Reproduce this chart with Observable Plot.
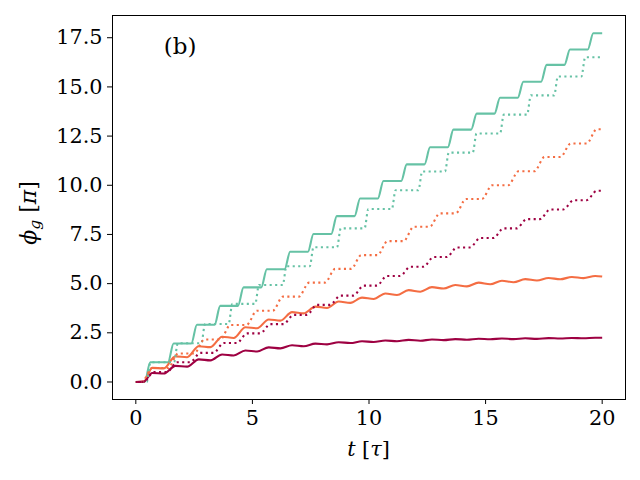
<!DOCTYPE html>
<html>
<head>
<meta charset="utf-8">
<script src="https://cdn.jsdelivr.net/npm/d3@7"></script>
<script src="https://cdn.jsdelivr.net/npm/@observablehq/plot@0.6"></script>
<style>
  html, body { margin: 0; padding: 0; background: white; }
  #chart { width: 640px; height: 480px; }
</style>
</head>
<body>
<div id="chart"></div>
<script>
// ---- data ----
const xTicks = [0, 5, 10, 15, 20];
const yTicks = [0, 2.5, 5, 7.5, 10, 12.5, 15, 17.5];

// green solid staircase
const greenSolidStepT = [0.5, 1.5, 2.5, 3.5, 4.5, 5.5, 6.5, 7.5, 8.5, 9.5, 10.5, 11.5, 12.5, 13.5, 14.5, 15.5, 16.5, 17.5, 18.5, 19.5];
const greenSolidLevel = [0, 1.0, 1.96, 2.91, 3.87, 4.81, 5.73, 6.62, 7.52, 8.43, 9.33, 10.22, 11.06, 11.93, 12.83, 13.64, 14.45, 15.26, 16.12, 16.9, 17.73];

// green dotted staircase
const greenDotStepT = [0.55, 1.72, 2.89, 4.06, 5.2, 6.38, 7.54, 8.71, 9.89, 11.06, 12.2, 13.34, 14.53, 15.7, 16.86, 18.02, 19.19];
const greenDotLevel = [0, 1.0, 1.97, 2.95, 3.97, 4.93, 5.88, 6.85, 7.81, 8.79, 9.75, 10.7, 11.66, 12.63, 13.59, 14.57, 15.53, 16.51];

// orange dotted staircase
const orangeDotStepT = [0.48, 1.6, 2.72, 3.84, 4.97, 6.09, 7.21, 8.33, 9.45, 10.58, 11.7, 12.82, 13.94, 15.06, 16.19, 17.31, 18.43, 19.55];
const orangeDotLevel = [0, 0.71, 1.45, 2.16, 2.9, 3.62, 4.34, 5.05, 5.75, 6.45, 7.16, 7.89, 8.57, 9.3, 10.0, 10.71, 11.44, 12.12, 12.85];

// dark red dotted staircase
const redDotStepT = [0.55, 1.55, 2.55, 3.55, 4.55, 5.55, 6.55, 7.55, 8.55, 9.55, 10.55, 11.55, 12.55, 13.55, 14.55, 15.55, 16.55, 17.55, 18.55, 19.55];
const redDotLevel = [0, 0.5, 1.0, 1.48, 1.98, 2.47, 2.94, 3.41, 3.92, 4.39, 4.9, 5.39, 5.86, 6.35, 6.84, 7.32, 7.81, 8.28, 8.77, 9.24, 9.72];

// wavy solid curves (peaks and troughs)
const waveT = [0, 0.35, 0.7, 1.2, 1.7, 2.2, 2.7, 3.2, 3.7, 4.2, 4.7, 5.2, 5.7, 6.2, 6.7, 7.2, 7.7, 8.2, 8.7, 9.2, 9.7, 10.2, 10.7, 11.2, 11.7, 12.2, 12.7, 13.2, 13.7, 14.2, 14.7, 15.2, 15.7, 16.2, 16.7, 17.2, 17.7, 18.2, 18.7, 19.2, 19.7, 20];
const orangeSolidY = [0, 0.02, 0.72, 0.69, 1.3, 1.26, 1.82, 1.77, 2.3, 2.24, 2.78, 2.73, 3.18, 3.12, 3.55, 3.49, 3.83, 3.76, 4.09, 4.02, 4.29, 4.22, 4.5, 4.42, 4.67, 4.59, 4.82, 4.75, 4.93, 4.86, 5.05, 4.97, 5.15, 5.07, 5.23, 5.16, 5.29, 5.22, 5.34, 5.28, 5.39, 5.36];
const redSolidY = [0, 0.02, 0.46, 0.43, 0.82, 0.78, 1.15, 1.1, 1.4, 1.35, 1.6, 1.55, 1.76, 1.71, 1.87, 1.82, 1.95, 1.91, 2.02, 1.98, 2.07, 2.03, 2.11, 2.07, 2.14, 2.1, 2.16, 2.13, 2.18, 2.15, 2.2, 2.17, 2.21, 2.18, 2.22, 2.19, 2.23, 2.21, 2.24, 2.22, 2.25, 2.25];

// ---- build tables ----
function stairs(stepT, level, half) {
  const pts = [{t: 0, y: level[0]}];
  stepT.forEach((s, i) => {
    pts.push({t: s - half, y: level[i]});
    pts.push({t: s + half, y: level[i + 1]});
  });
  pts.push({t: 20, y: level[level.length - 1]});
  return pts;
}
const wave = ys => waveT.map((t, i) => ({t, y: ys[i]}));

const greenSolid = stairs(greenSolidStepT, greenSolidLevel, 0.12);
const greenDot = stairs(greenDotStepT, greenDotLevel, 0.08);
const orangeDot = stairs(orangeDotStepT, orangeDotLevel, 0.22);
const redDot = stairs(redDotStepT, redDotLevel, 0.22);
const orangeSolid = wave(orangeSolidY);
const redSolid = wave(redSolidY);

const GREEN = "#66c2a5", ORANGE = "#f46d43", RED = "#9e0142";
const FONT = "DejaVu Serif";
const solid = {strokeWidth: 2.1, strokeLinecap: "butt", curve: "monotone-x"};
const dotted = {strokeDasharray: "2.1,3.4", strokeWidth: 2.1, strokeLinecap: "butt", curve: "monotone-x"};

const chart = Plot.plot({
  width: 640,
  height: 480,
  marginLeft: 112,
  marginRight: 15,
  marginTop: 15,
  marginBottom: 81,
  style: {fontFamily: FONT, fontSize: "20.8px", background: "white", color: "black", overflow: "visible"},
  x: {domain: [-1, 21], label: null},
  y: {domain: [-0.89, 18.63], label: null},
  marks: [
    Plot.axisX({ticks: xTicks, tickFormat: d => String(d), tickSize: 5, tickPadding: 6, label: null, fontSize: 20.8, strokeWidth: 1}),
    Plot.axisY({ticks: yTicks, tickFormat: d3.format(".1f"), tickSize: 5, tickPadding: 5, label: null, fontSize: 20.8, strokeWidth: 1}),
    Plot.line(greenSolid, {x: "t", y: "y", stroke: GREEN, ...solid}),
    Plot.line(orangeSolid, {x: "t", y: "y", stroke: ORANGE, ...solid}),
    Plot.line(redSolid, {x: "t", y: "y", stroke: RED, ...solid}),
    Plot.line(greenDot, {x: "t", y: "y", stroke: GREEN, ...dotted}),
    Plot.line(orangeDot, {x: "t", y: "y", stroke: ORANGE, ...dotted}),
    Plot.line(redDot, {x: "t", y: "y", stroke: RED, ...dotted}),
    Plot.frame({stroke: "black", strokeWidth: 1}),
    Plot.text(["(b)"], {frameAnchor: "top-left", dx: 51.3, dy: 38.4, lineAnchor: "bottom", textAnchor: "start", fontSize: 23, fontFamily: FONT, fill: "black"})
  ]
});
document.getElementById("chart").appendChild(chart);

// axis titles as real text with italic math glyphs
const svg = d3.select(chart);
const xl = svg.append("text")
  .attr("x", 368.5).attr("y", 456)
  .attr("text-anchor", "middle")
  .attr("font-family", FONT).attr("font-size", 20.8).attr("fill", "black");
xl.append("tspan").attr("font-style", "italic").text("t");
xl.append("tspan").text(" [");
xl.append("tspan").attr("font-style", "italic").text("τ");
xl.append("tspan").text("]");

const yl = svg.append("text")
  .attr("transform", "translate(36,213) rotate(-90)")
  .attr("text-anchor", "middle")
  .attr("font-family", FONT).attr("font-size", 22).attr("fill", "black");
yl.append("tspan").attr("font-style", "italic").text("ϕ");
yl.append("tspan").attr("font-style", "italic").attr("font-size", 15.5).attr("dy", 4).text("g");
yl.append("tspan").attr("dy", -4).text(" [");
yl.append("tspan").attr("font-style", "italic").text("π");
yl.append("tspan").text("]");
</script>
</body>
</html>
